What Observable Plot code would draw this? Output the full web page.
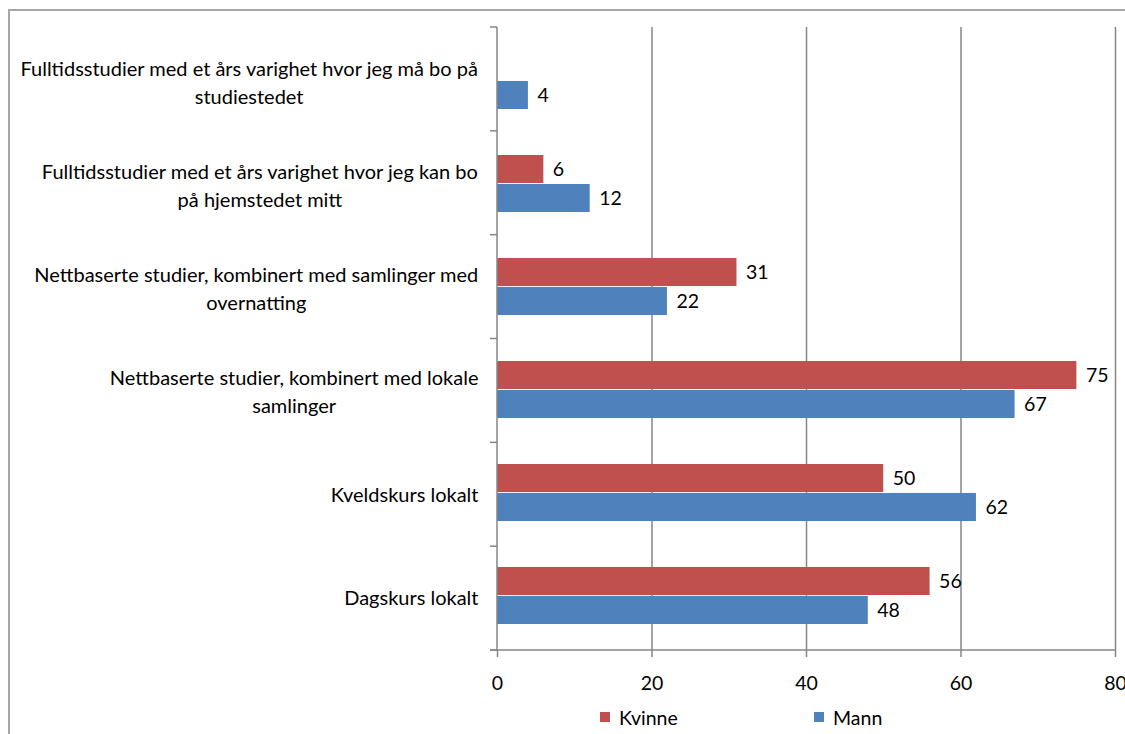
<!DOCTYPE html>
<html><head><meta charset="utf-8">
<script src="https://cdn.jsdelivr.net/npm/d3@7"></script>
<script src="https://cdn.jsdelivr.net/npm/@observablehq/plot@0.6"></script>
<style>
body{margin:0;background:#fff;}
#wrap{position:relative;width:1125px;height:734px;overflow:hidden;font-family:Lato,sans-serif;color:#000;}
#border{position:absolute;left:8px;top:9px;width:1400px;height:1000px;border:2px solid #a6a6a6;box-sizing:border-box}
#chart{position:absolute;left:0;top:0;}
#legend{position:absolute;top:704px;left:0;width:1125px;height:26px;font-size:19.5px;}
.item{position:absolute;top:0;display:flex;align-items:center;gap:9px;height:26px}
.sw{width:10px;height:10px;display:inline-block}
</style></head>
<body><div id="wrap"><div id="border"></div><div id="chart"></div><div id="legend"></div></div>
<script>
const categories = [
  "Fulltidsstudier med et års varighet hvor jeg må bo på studiestedet",
  "Fulltidsstudier med et års varighet hvor jeg kan bo på hjemstedet mitt",
  "Nettbaserte studier, kombinert med samlinger med overnatting",
  "Nettbaserte studier, kombinert med lokale samlinger",
  "Kveldskurs lokalt",
  "Dagskurs lokalt"
];
const categoryLabels = [
  "Fulltidsstudier med et års varighet hvor jeg må bo på\nstudiestedet",
  "Fulltidsstudier med et års varighet hvor jeg kan bo\npå hjemstedet mitt",
  "Nettbaserte studier, kombinert med samlinger med\novernatting",
  "Nettbaserte studier, kombinert med lokale\nsamlinger",
  "Kveldskurs lokalt",
  "Dagskurs lokalt"
];
const kvinne = [null, 6, 31, 75, 50, 56];
const mann = [4, 12, 22, 67, 62, 48];
const seriesNames = ["Kvinne", "Mann"];
const seriesColors = ["#C0504D", "#4F81BD"];
const xTicks = [0, 20, 40, 60, 80];

const FONT = "Lato, sans-serif";
const FS = 19.5;
const LFS = 20;
const GRAY = "#868686";
const W = 1125, H = 700;
const mTop = 27, mBottom = 50, mLeft = 497, mRight = 10;
const step = (H - mTop - mBottom) / categories.length;
const padInner = 0.442;
const bw = step * (1 - padInner);

const rows = [];
categories.forEach((c, i) => {
  if (kvinne[i] != null) rows.push({cat: c, series: seriesNames[0], value: kvinne[i]});
  if (mann[i] != null) rows.push({cat: c, series: seriesNames[1], value: mann[i]});
});
const kRows = rows.filter(r => r.series === seriesNames[0]);
const mRows = rows.filter(r => r.series === seriesNames[1]);

const ctx = document.createElement("canvas").getContext("2d");
ctx.font = `${LFS}px ${FONT}`;
const maxLineW = s => Math.max(...s.split("\n").map(l => ctx.measureText(l).width));

const labelMarks = categories.map((c, i) => Plot.text([c], {
  y: d => d, text: () => categoryLabels[i], frameAnchor: "left", textAnchor: "middle",
  dx: -(19 + maxLineW(categoryLabels[i]) / 2), lineHeight: 1.38, fontSize: LFS, fill: "#000"
}));

const axisLines = (index, scales, values, dims) => {
  const g = d3.create("svg:g").attr("stroke", GRAY).attr("stroke-width", 1.5);
  const x0 = dims.marginLeft, x1 = dims.width - dims.marginRight;
  const y0 = dims.marginTop, y1 = dims.height - dims.marginBottom;
  g.append("line").attr("x1", x0).attr("x2", x0).attr("y1", y0).attr("y2", y1);
  g.append("line").attr("x1", x0 - 7).attr("x2", x1).attr("y1", y1).attr("y2", y1);
  const n = categories.length;
  for (let i = 0; i <= n; i++) {
    const y = y0 + (y1 - y0) * i / n;
    g.append("line").attr("x1", x0 - 7).attr("x2", x0).attr("y1", y).attr("y2", y);
  }
  return g.node();
};

const chart = Plot.plot({
  width: W, height: H,
  marginTop: mTop, marginBottom: mBottom, marginLeft: mLeft, marginRight: mRight,
  style: {fontFamily: FONT, fontSize: FS + "px", background: "transparent"},
  x: {domain: [0, 80], ticks: xTicks},
  y: {domain: categories, paddingInner: padInner, paddingOuter: padInner / 2, axis: null},
  marks: [
    Plot.gridX(xTicks.slice(1), {stroke: GRAY, strokeOpacity: 1, strokeWidth: 1.5}),
    Plot.barX(kRows, {x: "value", y: "cat", fill: seriesColors[0], insetBottom: bw / 2}),
    Plot.barX(mRows, {x: "value", y: "cat", fill: seriesColors[1], insetTop: bw / 2}),
    Plot.text(kRows, {x: "value", y: "cat", text: d => String(d.value), dy: -bw / 4, dx: 9, textAnchor: "start", fontSize: FS, fill: "#000"}),
    Plot.text(mRows, {x: "value", y: "cat", text: d => String(d.value), dy: bw / 4, dx: 9, textAnchor: "start", fontSize: FS, fill: "#000"}),
    Plot.axisX({ticks: xTicks, tickSize: 7, tickPadding: 19, stroke: GRAY, strokeWidth: 1.5, strokeOpacity: 1, color: "#000", fontSize: FS, label: null, tickFormat: d => String(d)}),
    axisLines,
    ...labelMarks
  ]
});
document.getElementById("chart").appendChild(chart);

const legend = document.getElementById("legend");
const legendLeft = [600, 814];
seriesNames.forEach((name, i) => {
  const it = document.createElement("div");
  it.className = "item";
  it.style.left = legendLeft[i] + "px";
  const sw = document.createElement("span");
  sw.className = "sw"; sw.style.background = seriesColors[i];
  const tx = document.createElement("span");
  tx.textContent = name;
  it.appendChild(sw); it.appendChild(tx);
  legend.appendChild(it);
});
</script>
</body></html>
